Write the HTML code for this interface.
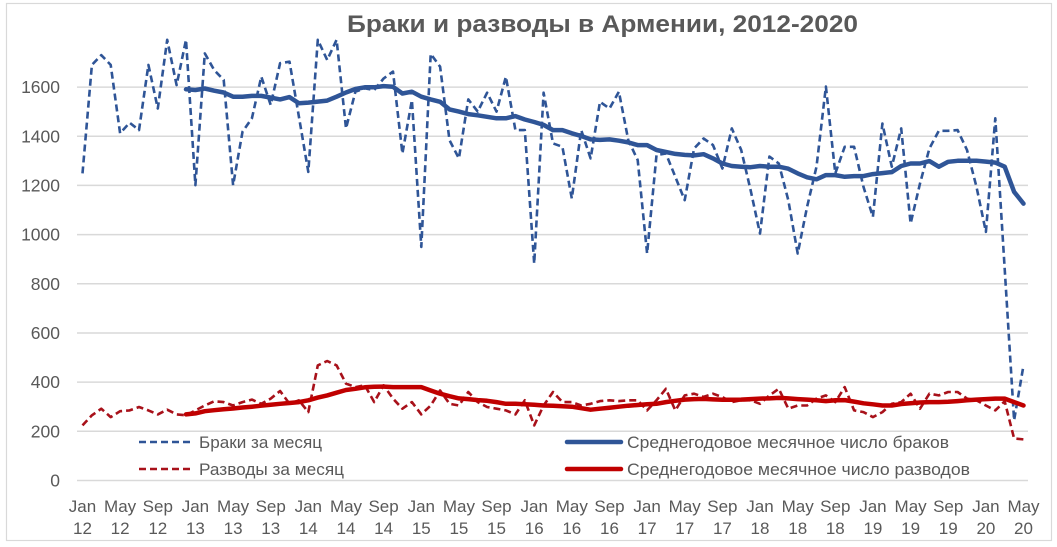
<!DOCTYPE html>
<html><head><meta charset="utf-8">
<style>
html,body{margin:0;padding:0;background:#fff;}
svg{display:block;}
text{font-family:"Liberation Sans","DejaVu Sans",sans-serif;fill:#595959;}
</style></head>
<body>
<svg id="chart" xmlns="http://www.w3.org/2000/svg" width="1057" height="547" viewBox="0 0 1057 547">
<rect x="0" y="0" width="1057" height="547" fill="#fff"/>
<rect x="6.5" y="3.5" width="1045" height="537" fill="none" stroke="#d9d9d9" stroke-width="1.2"/>
<text x="602.5" y="32" text-anchor="middle" font-size="24" font-weight="bold" textLength="511" lengthAdjust="spacingAndGlyphs">Браки и разводы в Армении, 2012-2020</text>
<g stroke="#d9d9d9" stroke-width="1.5">
<line x1="77" y1="87.1" x2="1028" y2="87.1"/>
<line x1="77" y1="136.3" x2="1028" y2="136.3"/>
<line x1="77" y1="185.4" x2="1028" y2="185.4"/>
<line x1="77" y1="234.6" x2="1028" y2="234.6"/>
<line x1="77" y1="283.8" x2="1028" y2="283.8"/>
<line x1="77" y1="333" x2="1028" y2="333"/>
<line x1="77" y1="382.1" x2="1028" y2="382.1"/>
<line x1="77" y1="431.3" x2="1028" y2="431.3"/>
<line x1="77" y1="480.5" x2="1028" y2="480.5"/>
</g>
<g font-size="17.5" text-anchor="end">
<text x="60" y="93.1">1600</text>
<text x="60" y="142.3">1400</text>
<text x="60" y="191.4">1200</text>
<text x="60" y="240.6">1000</text>
<text x="60" y="289.8">800</text>
<text x="60" y="339">600</text>
<text x="60" y="388.1">400</text>
<text x="60" y="437.3">200</text>
<text x="60" y="486.5">0</text>
</g>
<g font-size="17" text-anchor="middle">
<text x="82.5" y="512">Jan</text><text x="82.5" y="534">12</text>
<text x="120.1" y="512">May</text><text x="120.1" y="534">12</text>
<text x="157.8" y="512">Sep</text><text x="157.8" y="534">12</text>
<text x="195.4" y="512">Jan</text><text x="195.4" y="534">13</text>
<text x="233.1" y="512">May</text><text x="233.1" y="534">13</text>
<text x="270.7" y="512">Sep</text><text x="270.7" y="534">13</text>
<text x="308.3" y="512">Jan</text><text x="308.3" y="534">14</text>
<text x="346" y="512">May</text><text x="346" y="534">14</text>
<text x="383.6" y="512">Sep</text><text x="383.6" y="534">14</text>
<text x="421.3" y="512">Jan</text><text x="421.3" y="534">15</text>
<text x="458.9" y="512">May</text><text x="458.9" y="534">15</text>
<text x="496.5" y="512">Sep</text><text x="496.5" y="534">15</text>
<text x="534.2" y="512">Jan</text><text x="534.2" y="534">16</text>
<text x="571.8" y="512">May</text><text x="571.8" y="534">16</text>
<text x="609.5" y="512">Sep</text><text x="609.5" y="534">16</text>
<text x="647.1" y="512">Jan</text><text x="647.1" y="534">17</text>
<text x="684.7" y="512">May</text><text x="684.7" y="534">17</text>
<text x="722.4" y="512">Sep</text><text x="722.4" y="534">17</text>
<text x="760" y="512">Jan</text><text x="760" y="534">18</text>
<text x="797.7" y="512">May</text><text x="797.7" y="534">18</text>
<text x="835.3" y="512">Sep</text><text x="835.3" y="534">18</text>
<text x="872.9" y="512">Jan</text><text x="872.9" y="534">19</text>
<text x="910.6" y="512">May</text><text x="910.6" y="534">19</text>
<text x="948.2" y="512">Sep</text><text x="948.2" y="534">19</text>
<text x="985.9" y="512">Jan</text><text x="985.9" y="534">20</text>
<text x="1023.5" y="512">May</text><text x="1023.5" y="534">20</text>
</g>
<g id="series"></g>
<!-- legend -->
<line x1="139" y1="442" x2="193" y2="442" stroke="#2F5597" stroke-width="2.6" stroke-dasharray="7 4"/>
<line x1="139" y1="469" x2="193" y2="469" stroke="#A8111A" stroke-width="2.6" stroke-dasharray="7 4"/>
<line x1="567" y1="442" x2="621" y2="442" stroke="#2F5597" stroke-width="4.5" stroke-linecap="round"/>
<line x1="567" y1="469" x2="621" y2="469" stroke="#C00000" stroke-width="4.5" stroke-linecap="round"/>
<g font-size="17">
<text x="199" y="448" textLength="123" lengthAdjust="spacingAndGlyphs">Браки за месяц</text>
<text x="199" y="475" textLength="145" lengthAdjust="spacingAndGlyphs">Разводы за месяц</text>
<text x="627" y="448" textLength="322" lengthAdjust="spacingAndGlyphs">Среднегодовое месячное число браков</text>
<text x="627" y="475" textLength="343" lengthAdjust="spacingAndGlyphs">Среднегодовое месячное число разводов</text>
</g>
</svg>
<script>
(function(){
var M=[1249,1690,1730,1690,1412,1455,1425,1690,1513,1792,1608,1792,1201,1737,1669,1629,1201,1418,1473,1642,1527,1697,1703,1480,1255,1792,1710,1792,1432,1581,1595,1588,1635,1663,1330,1547,950,1735,1683,1384,1310,1550,1500,1577,1500,1642,1425,1425,882,1577,1371,1357,1147,1425,1310,1540,1513,1581,1384,1303,923,1323,1330,1235,1140,1350,1391,1364,1269,1432,1344,1181,1004,1317,1289,1140,923,1113,1276,1602,1249,1357,1357,1194,1072,1452,1276,1432,1045,1208,1350,1422,1422,1425,1344,1194,1011,1473,860,245,468];
var MS=[1591,1588,1594,1585,1578,1561,1561,1564,1564,1557,1550,1559,1534,1537,1541,1545,1561,1578,1592,1599,1599,1604,1601,1574,1581,1561,1550,1540,1509,1500,1490,1485,1479,1473,1473,1482,1468,1458,1446,1425,1425,1412,1401,1387,1385,1387,1382,1375,1364,1364,1344,1336,1328,1324,1322,1327,1310,1289,1279,1276,1274,1279,1276,1276,1268,1249,1233,1225,1242,1242,1235,1238,1238,1246,1250,1254,1279,1289,1289,1299,1276,1296,1300,1300,1300,1297,1293,1276,1174,1126];
var D=[224,265,292,258,282,285,299,285,269,288,269,265,285,305,322,319,305,319,329,312,333,364,312,326,278,468,486,468,394,380,387,319,387,333,292,319,269,305,366,312,305,360,319,299,292,285,269,326,224,305,360,319,319,305,312,323,326,323,326,326,285,326,373,285,346,353,340,353,339,319,326,326,312,346,373,292,305,305,333,346,319,380,285,278,258,278,312,319,353,292,353,346,360,360,333,326,305,285,322,171,167];
var DS=[269,273,282,286,290,293,297,300,304,308,312,315,319,326,337,346,357,368,373,379,381,382,380,380,380,380,366,353,343,334,331,327,324,319,312,312,310,308,305,304,302,300,294,288,292,296,300,304,307,310,312,319,324,329,331,332,330,328,328,329,331,333,334,336,334,331,329,326,323,326,327,321,314,310,305,305,311,314,317,319,319,320,323,326,329,331,333,333,319,305];
function pts(a,s){var o=[];for(var k=0;k<a.length;k++){o.push((82.5+9.41*(k+s)).toFixed(1)+','+(480.5-0.2459*a[k]).toFixed(1));}return o.join(' ');}
var g=document.getElementById('series');var ns='http://www.w3.org/2000/svg';
function add(a,s,col,w,dash){var p=document.createElementNS(ns,'polyline');p.setAttribute('points',pts(a,s));p.setAttribute('fill','none');p.setAttribute('stroke',col);p.setAttribute('stroke-width',w);p.setAttribute('stroke-linejoin','round');if(dash){p.setAttribute('stroke-dasharray',dash);}else{p.setAttribute('stroke-linecap','round');}g.appendChild(p);}
add(M,0,'#2F5597',2.6,'7 4');
add(MS,11,'#2F5597',4.5,null);
add(D,0,'#A8111A',2.6,'7 4');
add(DS,11,'#C00000',4.5,null);
})();
</script>
</body></html>
